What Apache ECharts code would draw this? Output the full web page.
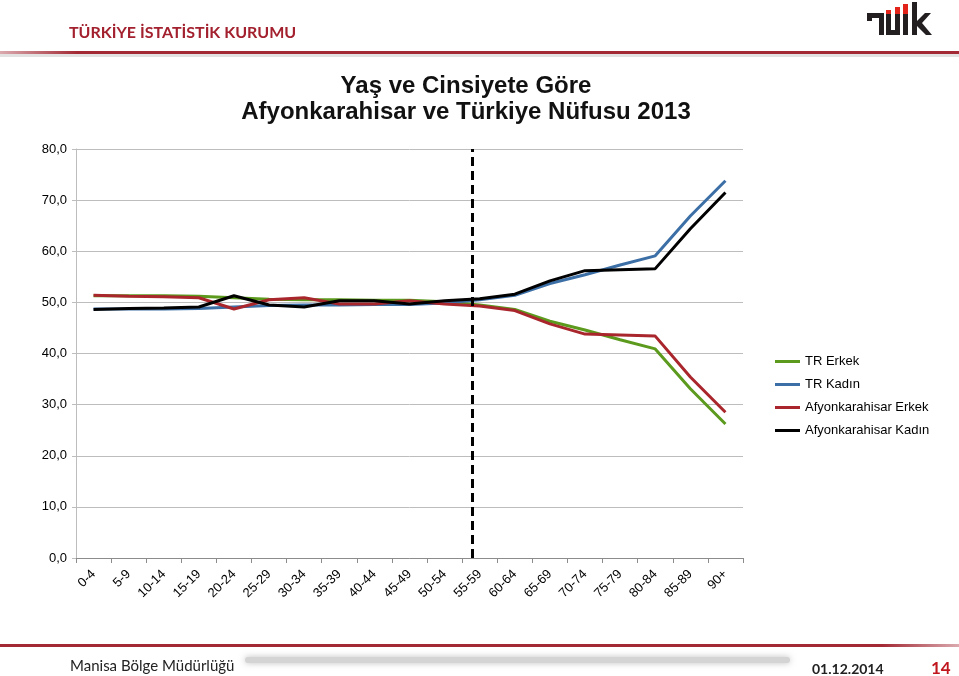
<!DOCTYPE html>
<html>
<head>
<meta charset="utf-8">
<script src="https://cdn.jsdelivr.net/npm/echarts@6/dist/echarts.min.js"></script>
<style>
html,body{margin:0;padding:0;background:#fff;}
#chart{width:959px;height:676px;}
</style>
</head>
<body>
<div id="chart"></div>
<script>
const categories = ['0-4','5-9','10-14','15-19','20-24','25-29','30-34','35-39','40-44','45-49','50-54','55-59','60-64','65-69','70-74','75-79','80-84','85-89','90+'];
const trErkek    = [51.3,51.3,51.3,51.2,50.9,50.6,50.5,50.5,50.4,50.4,50.1,49.5,48.6,46.3,44.6,42.7,40.9,33.1,26.2];
const trKadin    = [48.7,48.7,48.7,48.8,49.1,49.4,49.5,49.5,49.6,49.6,49.9,50.5,51.4,53.7,55.4,57.3,59.1,66.9,73.8];
const afyonErkek = [51.4,51.2,51.1,50.9,48.7,50.5,50.9,49.7,49.7,50.3,49.7,49.3,48.4,45.8,43.8,43.6,43.4,35.4,28.5];
const afyonKadin = [48.6,48.8,48.9,49.1,51.3,49.5,49.1,50.3,50.3,49.7,50.3,50.7,51.6,54.2,56.2,56.4,56.6,64.4,71.5];
const yTicks = [0,10,20,30,40,50,60,70,80];
const dividerPos = 10.8; // position of dashed divider, in category-index units
const seriesNames = ['TR Erkek','TR Kadın','Afyonkarahisar Erkek','Afyonkarahisar Kadın'];
const seriesColors = ['#5c9a1e','#3c6fa6','#a8262c','#000000'];
const seriesData = [trErkek, trKadin, afyonErkek, afyonKadin];

const chart = echarts.init(document.getElementById('chart'), null, {renderer:'canvas'});
const FONT = 'Liberation Sans, Arial, sans-serif';

const lineSeries = seriesNames.map((n,i)=>({
  name:n, type:'line', data:seriesData[i], symbol:'none', showSymbol:false,
  xAxisIndex:0, yAxisIndex:0,
  lineStyle:{color:seriesColors[i], width:3}, itemStyle:{color:seriesColors[i]},
  z: 2 + i
}));
lineSeries.push({
  name:'divider', type:'line', data:[], xAxisIndex:1, yAxisIndex:0,
  markLine:{silent:true, symbol:'none', label:{show:false},
    lineStyle:{color:'#000', width:3, type:[9,5]},
    data:[{xAxis:dividerPos}]}
});

const gW = 959;
chart.setOption({
  backgroundColor:'#fff',
  animation:false,
  title:{
    text:'Yaş ve Cinsiyete Göre\nAfyonkarahisar ve Türkiye Nüfusu 2013',
    left:461, top:68, textAlign:'center',
    textStyle:{fontFamily:FONT, fontSize:24, fontWeight:'bold', color:'#111', lineHeight:26}
  },
  legend:{
    data:seriesNames, orient:'vertical', left:770, top:350,
    icon:'rect', itemWidth:25, itemHeight:3, itemGap:10,
    textStyle:{fontFamily:FONT, fontSize:13, color:'#000'}
  },
  grid:{left:76, right:216, top:149, bottom:118, containLabel:false},
  xAxis:[{
    type:'category', data:categories, boundaryGap:true,
    axisLine:{lineStyle:{color:'#8c8c8c', width:1}},
    axisTick:{show:true, length:5, lineStyle:{color:'#8c8c8c'}},
    axisLabel:{rotate:45, fontFamily:FONT, fontSize:13, color:'#000', margin:14, interval:0}
  },{
    type:'value', min:-0.5, max:18.5, show:false
  }],
  yAxis:{
    type:'value', min:0, max:80, interval:10,
    axisLine:{show:true, onZero:false, lineStyle:{color:'#bdbdbd'}},
    axisTick:{show:true, length:4, lineStyle:{color:'#bdbdbd'}},
    splitLine:{lineStyle:{color:'#bdbdbd', width:1}},
    axisLabel:{fontFamily:FONT, fontSize:13, color:'#000', margin:9,
      formatter:v=>v.toFixed(1).replace('.',',')}
  },
  series:lineSeries,
  graphic:[
    // header
    {type:'text', left:69, top:25, style:{text:'TÜRKİYE İSTATİSTİK KURUMU', fill:'#a3202e', font:'bold 16px Lato, "Open Sans", sans-serif'}},
    {type:'rect', shape:{x:0, y:54, width:gW, height:3}, style:{fill:'#e2e2e2'}},
    {type:'rect', shape:{x:0, y:51, width:gW, height:3}, style:{fill:new echarts.graphic.LinearGradient(0,0,1,0,[{offset:0,color:'rgba(163,42,53,0.4)'},{offset:0.08,color:'#a32a35'},{offset:1,color:'#a32a35'}])}},
    // logo
    {type:'group', children:[
      {type:'rect', shape:{x:867,y:13,width:17,height:5}, style:{fill:'#231f20'}},
      {type:'rect', shape:{x:867,y:13,width:5,height:8}, style:{fill:'#231f20'}},
      {type:'rect', shape:{x:879,y:13,width:5,height:22}, style:{fill:'#231f20'}},
      {type:'rect', shape:{x:886,y:14,width:5,height:21}, style:{fill:'#231f20'}},
      {type:'rect', shape:{x:886,y:10,width:5,height:4}, style:{fill:'#e2231a'}},
      {type:'rect', shape:{x:895,y:14,width:5,height:21}, style:{fill:'#231f20'}},
      {type:'rect', shape:{x:895,y:7,width:5,height:7}, style:{fill:'#e2231a'}},
      {type:'rect', shape:{x:886,y:30,width:14,height:5}, style:{fill:'#231f20'}},
      {type:'rect', shape:{x:903,y:14,width:5,height:21}, style:{fill:'#231f20'}},
      {type:'rect', shape:{x:903,y:4,width:5,height:10}, style:{fill:'#e2231a'}},
      {type:'rect', shape:{x:912,y:2,width:5,height:33}, style:{fill:'#231f20'}},
      {type:'polygon', shape:{points:[[917,21],[925,13],[931,13],[922,23],[932,35],[926,35],[917,26]]}, style:{fill:'#231f20'}}
    ]},
    // footer
    {type:'rect', shape:{x:0, y:644, width:gW, height:3}, style:{fill:new echarts.graphic.LinearGradient(0,0,1,0,[{offset:0,color:'#a32a35'},{offset:0.92,color:'#a32a35'},{offset:1,color:'rgba(163,42,53,0.4)'}])}},
    {type:'rect', shape:{x:245, y:657, width:545, height:6, r:3}, style:{fill:'#d4d4d4', shadowBlur:6, shadowColor:'rgba(0,0,0,0.25)'}},
    {type:'text', left:70, top:659, style:{text:'Manisa Bölge Müdürlüğü', fill:'#222', font:'15px Lato, "Open Sans", sans-serif'}},
    {type:'text', left:812, top:662, style:{text:'01.12.2014', fill:'#222', font:'bold 14px Lato, "Open Sans", sans-serif'}},
    {type:'text', left:931, top:660, style:{text:'14', fill:'#c0161e', font:'bold 17px Lato, "Open Sans", sans-serif'}}
  ]
});
</script>
</body>
</html>
